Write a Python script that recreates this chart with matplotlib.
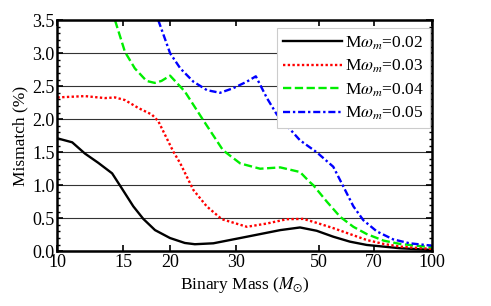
import matplotlib
matplotlib.use("Agg")
import matplotlib.pyplot as plt
from matplotlib.ticker import FixedLocator, NullFormatter, MultipleLocator, FormatStrFormatter

plt.rcParams['font.family'] = ['Liberation Serif', 'DejaVu Serif']
plt.rcParams['mathtext.fontset'] = 'stix'

# black, M*omega_m = 0.02
m02 = [10, 10.95, 11.84, 12.85, 14.0, 14.85, 15.95, 16.96, 18.23, 19.99, 21.9, 23.3, 26.1,
       32.1, 39.4, 44.5, 49.3, 54.6, 60.5, 67.1, 82.4, 100]
v02 = [1.71, 1.65, 1.48, 1.34, 1.18, 0.955, 0.68, 0.49, 0.32, 0.20, 0.125, 0.106, 0.12,
       0.22, 0.32, 0.36, 0.31, 0.22, 0.145, 0.095, 0.045, 0.02]

# red, 0.03
m03 = [10, 11.84, 13.4, 14.25, 15.15, 16.45, 17.88, 18.6, 20.4, 21.3, 23.07, 25.06, 27.5,
       32.1, 36.3, 41.0, 45.4, 49.3, 54.6, 60.5, 67.1, 74.5, 82.4, 100]
v03 = [2.33, 2.35, 2.32, 2.33, 2.29, 2.17, 2.07, 1.97, 1.51, 1.33, 0.93, 0.68, 0.485,
       0.37, 0.42, 0.485, 0.49, 0.43, 0.35, 0.26, 0.17, 0.11, 0.07, 0.035]

# green, 0.04
m04 = [14.25, 15.15, 16.1, 17.3, 18.2, 18.97, 20.0, 21.9, 24.5, 27.7, 30.8, 34.8, 39.4,
       44.5, 47.2, 48.3, 52.5, 57.0, 61.8, 67.1, 74.5, 82.4, 100]
v04 = [3.5, 3.02, 2.77, 2.58, 2.55, 2.58, 2.66, 2.42, 1.99, 1.53, 1.33, 1.25, 1.27,
       1.2, 1.05, 1.0, 0.75, 0.52, 0.37, 0.26, 0.16, 0.11, 0.06]

# blue, 0.05
m05 = [18.6, 20.0, 21.3, 23.07, 25.1, 27.2, 29.5, 32.1, 33.9, 36.3, 38.6, 44.5, 49.3,
       54.6, 58.1, 61.8, 65.7, 71.4, 78.9, 87.4, 100]
v05 = [3.5, 3.0, 2.77, 2.57, 2.44, 2.40, 2.47, 2.57, 2.65, 2.32, 2.07, 1.68, 1.5,
       1.28, 0.98, 0.68, 0.47, 0.30, 0.18, 0.12, 0.085]

labels = [r'M$\omega_m$=0.02', r'M$\omega_m$=0.03', r'M$\omega_m$=0.04', r'M$\omega_m$=0.05']
xticks = [10, 15, 20, 30, 50, 70, 100]

fig = plt.figure(figsize=(4.91, 3.06), dpi=100)
ax = fig.add_axes([0.117, 0.179, 0.762, 0.755])

ax.plot(m02, v02, color='black', lw=1.7, ls='-', label=labels[0])
ax.plot(m03, v03, color='red', lw=1.7, ls=(0, (1, 1)), label=labels[1])
ax.plot(m04, v04, color='#00ee00', lw=1.7, ls=(0, (3.5, 1.5)), label=labels[2])
ax.plot(m05, v05, color='blue', lw=1.7, ls=(0, (3, 1.2, 1, 1.2)), label=labels[3])

ax.set_xscale('log')
ax.set_xlim(10, 100)
ax.set_ylim(0, 3.5)
ax.xaxis.set_major_locator(FixedLocator(xticks))
ax.xaxis.set_minor_locator(FixedLocator([]))
ax.set_xticklabels([str(t) for t in xticks])
ax.xaxis.set_minor_formatter(NullFormatter())
ax.yaxis.set_major_locator(MultipleLocator(0.5))
ax.yaxis.set_minor_locator(MultipleLocator(0.1))
ax.yaxis.set_major_formatter(FormatStrFormatter('%.1f'))

ax.grid(axis='y', which='major', color='#333333', lw=0.8)
ax.tick_params(which='both', direction='in', top=True, right=True, labelsize=13, pad=2)
ax.tick_params(which='major', length=4, width=1.2)
ax.tick_params(which='minor', length=2.5, width=1)
for s in ax.spines.values():
    s.set_linewidth(1.8)

ax.set_xlabel(r'Binary Mass ($M_{\odot}$)', fontsize=12.5, labelpad=3)
ax.set_ylabel('Mismatch (%)', fontsize=12.5, labelpad=3)

leg = ax.legend(loc='upper right', bbox_to_anchor=(0.997, 0.965), fontsize=12.5, frameon=True,
                fancybox=False, handlelength=3.4, handletextpad=0.2, borderpad=0.35,
                labelspacing=0.35, borderaxespad=0.0)
leg.get_frame().set_edgecolor('#cccccc')
leg.get_frame().set_linewidth(0.8)
leg.get_frame().set_alpha(1)

plt.savefig('out.png', dpi=100)
